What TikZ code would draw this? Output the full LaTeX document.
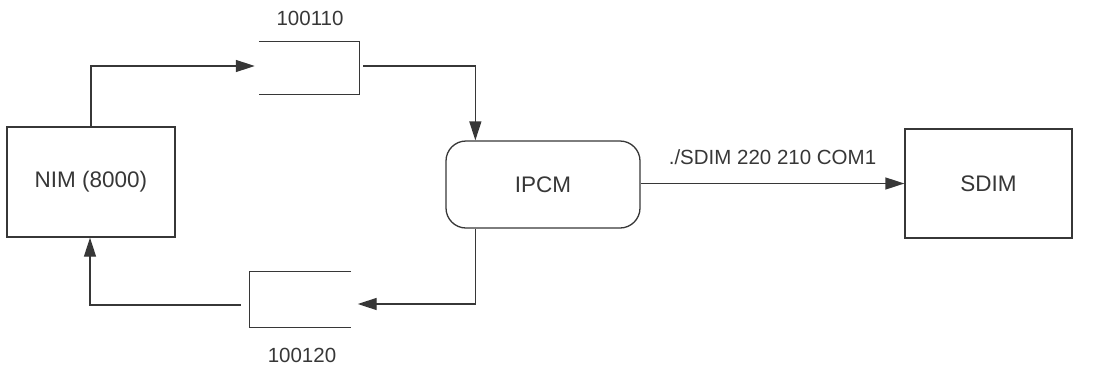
\documentclass[tikz,border=0pt]{standalone}
\usepackage{fontspec}
\setmainfont{Liberation Sans}
\usetikzlibrary{arrows.meta,calc}
\definecolor{ink}{RGB}{55,55,55}
\tikzset{
  block/.style={draw=ink, line width=1.3pt, rectangle, inner sep=0pt,
    font=\fontsize{22.5}{26}\selectfont, text=ink},
  roundblock/.style={block, rounded corners=20pt},
  queuebox/.style={rectangle, inner sep=0pt},
  queueline/.style={draw=ink, line width=1.3pt},
  link/.style={draw=ink, line width=1.3pt, -{Triangle[length=19pt,width=12pt]}},
  plain/.style={draw=ink, line width=1.3pt},
  caption/.style={font=\fontsize{20.5}{24}\selectfont, text=ink, inner sep=0pt}
}
\begin{document}
\begin{tikzpicture}[x=1pt,y=-1pt]
\useasboundingbox (0,0) rectangle (1102,370);

% main blocks
\node[block, minimum width=168pt, minimum height=110pt] (nim) at (91,182) {NIM (8000)};
\node[roundblock, minimum width=194pt, minimum height=87pt] (ipcm) at (543,184.5) {IPCM};
\node[block, minimum width=167pt, minimum height=109pt] (sdim) at (988.5,183.5) {SDIM};

% message queues (open-ended boxes)
\node[queuebox, minimum width=100pt, minimum height=52pt] (qin) at (309,68) {};
\node[queuebox, minimum width=101pt, minimum height=55pt] (qout) at (300.5,299.5) {};
\draw[queueline] (qin.north west) -- (qin.north east) -- (qin.south east) -- (qin.south west);
\draw[queueline] (qout.north east) -- (qout.north west) -- (qout.south west) -- (qout.south east);

% queue labels
\node[caption] (lin) at (310,18) {100110};
\node[caption] (lout) at (302,355) {100120};

% connector anchor points
\coordinate (ipcmtop) at ($(ipcm.north west)+(30,0)$);
\coordinate (ipcmbot) at ($(ipcm.south west)+(30,0)$);

% NIM -> input queue
\draw[link] (nim.north) |- ($(qin.west)+(-4,-2)$);
% input queue -> IPCM
\draw[link] ($(qin.east)+(4,-2)$) -| (ipcmtop);
% IPCM -> output queue
\draw[link] (ipcmbot) |- ($(qout.east)+(6.5,4.5)$);
% output queue -> NIM
\draw[link] ($(qout.west)+(-9,5.5)$) -| ($(nim.south)+(-1,0)$);

% IPCM -> SDIM
\draw[link] (ipcm.east |- sdim.west) -- (sdim.west)
  node[caption, pos=0.5, above=18pt] (cmd) {./SDIM 220 210 COM1};
\end{tikzpicture}
\end{document}
